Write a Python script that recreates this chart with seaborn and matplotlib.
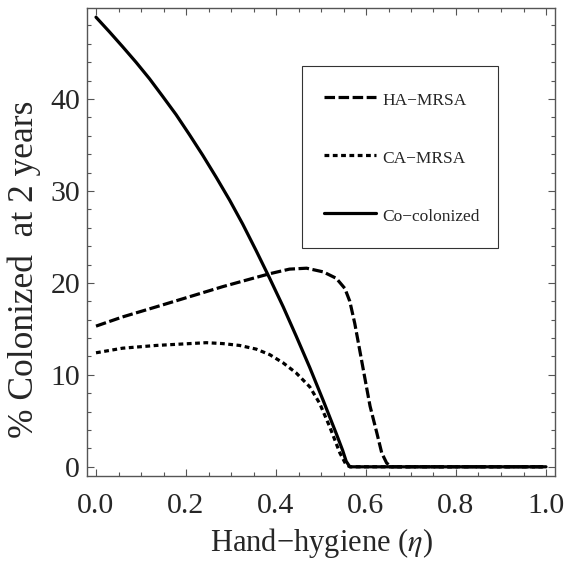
import numpy as np
import pandas as pd
import matplotlib
matplotlib.use('Agg')
import matplotlib.pyplot as plt
from matplotlib.ticker import MultipleLocator, FormatStrFormatter
import seaborn as sns

# values (eta vs % colonized at 2 years)
eta_co = [0.0, 0.03, 0.059, 0.089, 0.119, 0.148, 0.178, 0.208, 0.237, 0.267, 0.297,
          0.326, 0.356, 0.386, 0.416, 0.445, 0.475, 0.505, 0.534, 0.548, 0.556, 0.564, 1.0]
co_colonized = [48.9, 47.3, 45.7, 44.0, 42.2, 40.3, 38.3, 36.1, 33.9, 31.5, 29.0,
                26.4, 23.5, 20.5, 17.4, 14.2, 10.8, 7.2, 3.6, 1.8, 0.6, 0.0, 0.0]

eta_ha = [0.0, 0.059, 0.134, 0.208, 0.282, 0.356, 0.386, 0.43, 0.468, 0.505, 0.534,
          0.553, 0.564, 0.575, 0.586, 0.598, 0.609, 0.624, 0.635, 0.646, 0.657, 1.0]
ha_mrsa = [15.3, 16.3, 17.4, 18.5, 19.6, 20.6, 21.0, 21.5, 21.6, 21.2, 20.5,
           19.4, 18.0, 15.6, 12.7, 9.5, 6.6, 3.7, 1.5, 0.4, 0.0, 0.0]

eta_ca = [0.0, 0.059, 0.134, 0.208, 0.245, 0.282, 0.319, 0.356, 0.386, 0.416, 0.445,
          0.475, 0.497, 0.519, 0.542, 0.556, 0.565, 1.0]
ca_mrsa = [12.4, 12.9, 13.2, 13.4, 13.5, 13.4, 13.2, 12.8, 12.2, 11.3, 10.2,
           8.7, 6.9, 4.4, 1.5, 0.2, 0.0, 0.0]

sns.set_style("ticks")
plt.rcParams['font.family'] = ['Liberation Serif', 'DejaVu Serif']
plt.rcParams['mathtext.fontset'] = 'stix'

fig = plt.figure(figsize=(5.66, 5.65), dpi=100)
ax = fig.add_axes([87 / 566, 89 / 565, 468 / 566, 468 / 565])

lw = 2.3
sns.lineplot(x=eta_co, y=co_colonized, ax=ax, color='black', lw=lw,
             linestyle='-', label='Co\u2212colonized', zorder=2)
sns.lineplot(x=eta_ha, y=ha_mrsa, ax=ax, color='black', lw=lw,
             linestyle=(0, (3.3, 1.1)), label='HA\u2212MRSA', zorder=3)
sns.lineplot(x=eta_ca, y=ca_mrsa, ax=ax, color='black', lw=lw,
             linestyle=(0, (1.5, 1.1)), label='CA\u2212MRSA', zorder=4)

ax.set_xlim(-0.02, 1.02)
ax.set_ylim(-1.0, 49.9)
ax.xaxis.set_major_locator(MultipleLocator(0.2))
ax.xaxis.set_minor_locator(MultipleLocator(0.05))
ax.yaxis.set_major_locator(MultipleLocator(10))
ax.yaxis.set_minor_locator(MultipleLocator(2))
ax.xaxis.set_major_formatter(FormatStrFormatter('%.1f'))

ax.tick_params(which='both', direction='in', top=True, right=True,
               labelsize=21.5, color='#555555', width=0.8)
ax.tick_params(which='major', length=5)
ax.tick_params(which='minor', length=3)
ax.tick_params(axis='x', pad=12)
ax.tick_params(axis='y', pad=5)
for s in ax.spines.values():
    s.set_color('#555555')
    s.set_linewidth(1.0)

ax.set_xlabel('Hand\u2212hygiene ($\\eta$)', fontsize=22)
ax.set_ylabel('% Colonized  at 2 years', fontsize=25.5)
ax.xaxis.set_label_coords(0.5, -0.106)
ax.yaxis.set_label_coords(-0.099, 0.442)

handles, labels = ax.get_legend_handles_labels()
order = [1, 2, 0]
leg = ax.legend([handles[i] for i in order], [labels[i] for i in order],
                loc='upper left', bbox_to_anchor=(0.459, 0.875, 0.419, 0.0),
                mode='expand', fontsize=12.5, frameon=True, fancybox=False,
                edgecolor='black', borderpad=1.3, labelspacing=2.2,
                handlelength=3.0, handleheight=1.39, handletextpad=0.33,
                borderaxespad=0)
leg.get_frame().set_linewidth(0.8)

fig.savefig('out.png', dpi=100)
